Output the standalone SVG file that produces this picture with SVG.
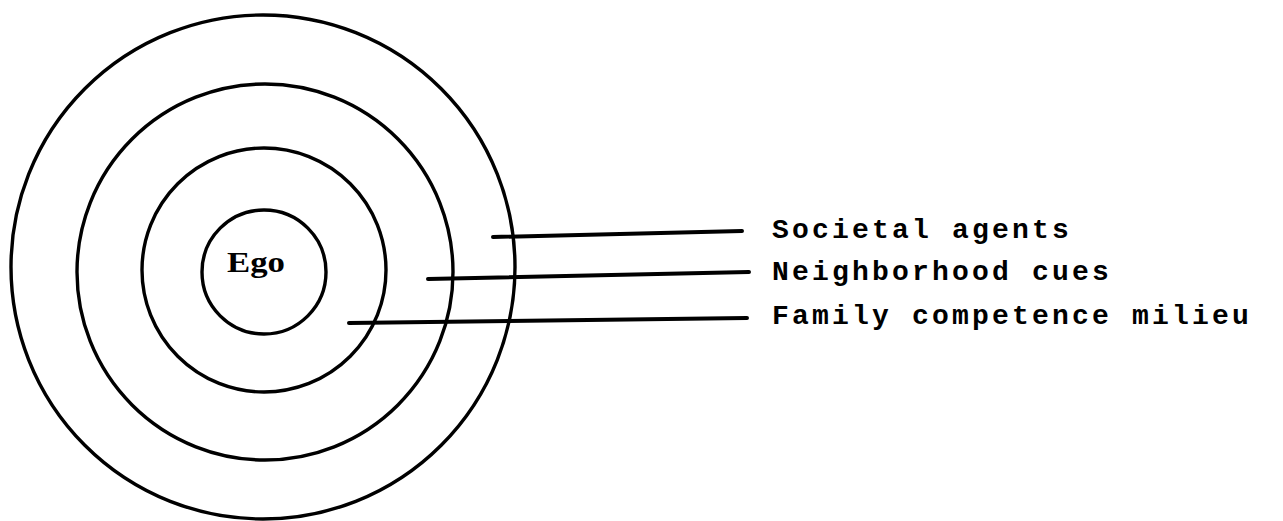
<svg xmlns="http://www.w3.org/2000/svg" width="1283" height="521" viewBox="0 0 1283 521">
<style>
.ring{fill:none;stroke:#000;stroke-width:3.4}
.lead{stroke:#000;stroke-width:4;stroke-linecap:round;fill:none}
.lbl{font-family:"Liberation Mono","DejaVu Sans Mono",monospace;font-weight:bold;font-size:28px;letter-spacing:3.2px;fill:#000}
.ego{font-family:"Liberation Serif","DejaVu Serif",serif;font-weight:bold;font-size:30px;fill:#000}
</style>
<rect width="1283" height="521" fill="#fff"/>
<g id="societal-ring"><circle class="ring" cx="263" cy="267" r="252"/></g>
<g id="neighborhood-ring"><circle class="ring" cx="265" cy="272" r="188"/></g>
<g id="family-ring"><circle class="ring" cx="264" cy="270" r="122"/></g>
<g id="ego"><circle class="ring" cx="264" cy="272" r="62"/><text class="ego" x="227" y="272" textLength="58" lengthAdjust="spacingAndGlyphs">Ego</text></g>
<g id="connectors">
<path class="lead" d="M493 237 L742 231"/>
<path class="lead" d="M428 279 L749 272"/>
<path class="lead" d="M349 323 L747 318"/>
</g>
<g id="label-societal"><text class="lbl" x="772" y="238">Societal agents</text></g>
<g id="label-neighborhood"><text class="lbl" x="772" y="280">Neighborhood cues</text></g>
<g id="label-family"><text class="lbl" x="772" y="324">Family competence milieu</text></g>
</svg>
